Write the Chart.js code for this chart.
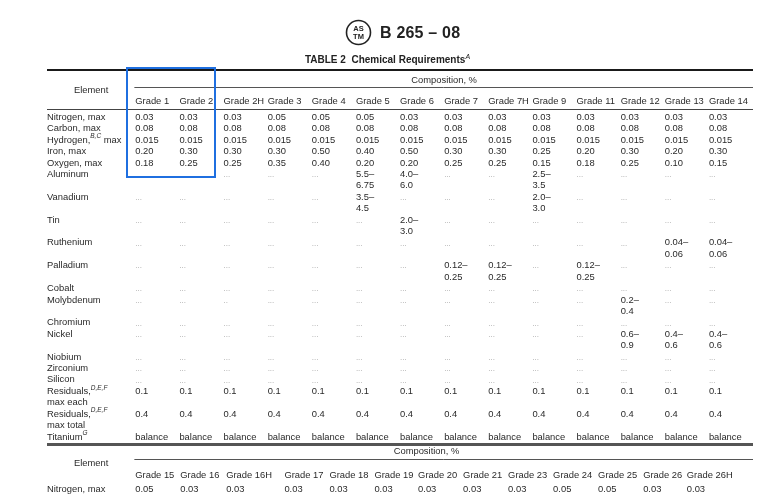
<!DOCTYPE html>
<html lang="en">
<head>
    <meta charset="UTF-8">
    <title>B 265 – 08 Table 2 Chemical Requirements</title>
    <script src="https://cdn.jsdelivr.net/npm/chart.js"></script>
    <style>
        html, body { margin: 0; padding: 0; background: #fff; }
        body { width: 767px; height: 495px; position: relative; overflow: hidden;
               font-family: "Liberation Sans", Arial, sans-serif; color: #222; }
        #tableChart { position: absolute; left: 0; top: 0; }
        .doc-head { position: absolute; left: 345px; top: 19px; display: flex; align-items: center; }
        .doc-head span { font-weight: bold; font-size: 16px; margin-left: 8px; letter-spacing: 0.2px; }
        .table-title { position: absolute; top: 53px; left: 4px; width: 767px; text-align: center;
                       font-weight: bold; font-size: 10px; }
        .table-title sup { font-style: italic; font-weight: normal; font-size: 7px; }
    </style>
</head>
<body>
    <canvas id="tableChart" width="767" height="495"></canvas>

    <div class="doc-head">
        <svg width="27" height="27" viewBox="0 0 27 27">
            <circle cx="13.5" cy="13.5" r="12" fill="none" stroke="#222" stroke-width="1.6"/>
            <text x="13.5" y="12" font-size="7.5" font-weight="bold" text-anchor="middle" fill="#222" font-family="Liberation Sans">AS</text>
            <text x="13.5" y="20" font-size="7.5" font-weight="bold" text-anchor="middle" fill="#222" font-family="Liberation Sans">TM</text>
        </svg>
        <span>B 265 – 08</span>
    </div>
    <div class="table-title">TABLE 2&nbsp; Chemical Requirements<sup>A</sup></div>

    <script>
        // ---- data ----
        const D = '...';
        const grades = ['Grade 1', 'Grade 2', 'Grade 2H', 'Grade 3', 'Grade 4', 'Grade 5', 'Grade 6',
                        'Grade 7', 'Grade 7H', 'Grade 9', 'Grade 11', 'Grade 12', 'Grade 13', 'Grade 14'];
        const elements = ['Nitrogen, max', 'Carbon, max', 'Hydrogen,{B,C} max', 'Iron, max', 'Oxygen, max',
                          'Aluminum', 'Vanadium', 'Tin', 'Ruthenium', 'Palladium', 'Cobalt', 'Molybdenum',
                          'Chromium', 'Nickel', 'Niobium', 'Zirconium', 'Silicon',
                          'Residuals,{D,E,F}\nmax each', 'Residuals,{D,E,F}\nmax total', 'Titanium{G}'];

        const nitrogen   = ['0.03', '0.03', '0.03', '0.05', '0.05', '0.05', '0.03', '0.03', '0.03', '0.03', '0.03', '0.03', '0.03', '0.03'];
        const carbon     = ['0.08', '0.08', '0.08', '0.08', '0.08', '0.08', '0.08', '0.08', '0.08', '0.08', '0.08', '0.08', '0.08', '0.08'];
        const hydrogen   = ['0.015', '0.015', '0.015', '0.015', '0.015', '0.015', '0.015', '0.015', '0.015', '0.015', '0.015', '0.015', '0.015', '0.015'];
        const iron       = ['0.20', '0.30', '0.30', '0.30', '0.50', '0.40', '0.50', '0.30', '0.30', '0.25', '0.20', '0.30', '0.20', '0.30'];
        const oxygen     = ['0.18', '0.25', '0.25', '0.35', '0.40', '0.20', '0.20', '0.25', '0.25', '0.15', '0.18', '0.25', '0.10', '0.15'];
        const aluminum   = [D, D, D, D, D, '5.5–\n6.75', '4.0–\n6.0', D, D, '2.5–\n3.5', D, D, D, D];
        const vanadium   = [D, D, D, D, D, '3.5–\n4.5', D, D, D, '2.0–\n3.0', D, D, D, D];
        const tin        = [D, D, D, D, D, D, '2.0–\n3.0', D, D, D, D, D, D, D];
        const ruthenium  = [D, D, D, D, D, D, D, D, D, D, D, D, '0.04–\n0.06', '0.04–\n0.06'];
        const palladium  = [D, D, D, D, D, D, D, '0.12–\n0.25', '0.12–\n0.25', D, '0.12–\n0.25', D, D, D];
        const cobalt     = [D, D, D, D, D, D, D, D, D, D, D, D, D, D];
        const molybdenum = [D, D, '..', D, D, D, D, D, D, D, D, '0.2–\n0.4', D, D];
        const chromium   = [D, D, D, D, D, D, D, D, D, D, D, D, D, D];
        const nickel     = [D, D, D, D, D, D, D, D, D, D, D, '0.6–\n0.9', '0.4–\n0.6', '0.4–\n0.6'];
        const niobium    = [D, D, D, D, D, D, D, D, D, D, D, D, D, D];
        const zirconium  = [D, D, D, D, D, D, D, D, D, D, D, D, D, D];
        const silicon    = [D, D, D, D, D, D, D, D, D, D, D, D, D, D];
        const residEach  = ['0.1', '0.1', '0.1', '0.1', '0.1', '0.1', '0.1', '0.1', '0.1', '0.1', '0.1', '0.1', '0.1', '0.1'];
        const residTotal = ['0.4', '0.4', '0.4', '0.4', '0.4', '0.4', '0.4', '0.4', '0.4', '0.4', '0.4', '0.4', '0.4', '0.4'];
        const titanium   = ['balance', 'balance', 'balance', 'balance', 'balance', 'balance', 'balance',
                            'balance', 'balance', 'balance', 'balance', 'balance', 'balance', 'balance'];

        // continuation of the table (second block)
        const grades2   = ['Grade 15', 'Grade 16', 'Grade 16H', 'Grade 17', 'Grade 18', 'Grade 19', 'Grade 20',
                           'Grade 21', 'Grade 23', 'Grade 24', 'Grade 25', 'Grade 26', 'Grade 26H'];
        const nitrogen2 = ['0.05', '0.03', '0.03', '0.03', '0.03', '0.03', '0.03', '0.03', '0.03', '0.05', '0.05', '0.03', '0.03'];

        const rows = [nitrogen, carbon, hydrogen, iron, oxygen, aluminum, vanadium, tin, ruthenium, palladium,
                      cobalt, molybdenum, chromium, nickel, niobium, zirconium, silicon, residEach, residTotal, titanium];

        // ---- layout (column / line units on the chart scales) ----
        const labelCol = -1;
        const cols2 = [1, 2.02, 3.06, 4.38, 5.4, 6.42, 7.41, 8.43, 9.45, 10.47, 11.49, 12.51, 13.5];
        const rules = [
            { y: -4.11, from: -1, to: 15, width: 2, color: '#1a1a1a' },
            { y: -2.65, from: 0.98, to: 15, width: 1, color: '#555' },
            { y: -0.76, from: -1, to: 15, width: 1, color: '#444' },
            { y: 28.6, from: -1, to: 15, width: 3, color: '#555' },
            { y: 29.97, from: 0.98, to: 15, width: 1, color: '#555' }
        ];
        const highlight = { x0: 0.82, x1: 2.81, y0: -4.29, y1: 5.25, color: '#1f6fe0' };
        const FONT = '"Liberation Sans", Arial, sans-serif';

        // ---- datasets ----
        const datasets = [];
        // header block 1
        datasets.push({ label: 'head1', data: [{ x: 0, y: -2.4 }, { x: 8, y: -3.28 }],
                        texts: ['Element', 'Composition, %'], align: 'center', pointRadius: 0 });
        datasets.push({ label: 'grades', data: grades.map((g, c) => ({ x: c + 1, y: -1.44 })),
                        texts: grades, pointRadius: 0 });
        // element rows
        let line = 0;
        elements.forEach((name, r) => {
            const vals = rows[r];
            const cells = [name].concat(vals);
            datasets.push({
                label: name.replace(/\{[^}]*\}/g, '').replace('\n', ' '),
                data: cells.map((t, c) => ({ x: c === 0 ? labelCol : c, y: line })),
                texts: cells,
                pointRadius: 0
            });
            line += Math.max(...cells.map(t => t.split('\n').length));
        });
        // header block 2
        datasets.push({ label: 'head2', data: [{ x: 0, y: 30.36 }, { x: 7.6, y: 29.3 }],
                        texts: ['Element', 'Composition, %'], align: 'center', pointRadius: 0 });
        datasets.push({ label: 'grades2', data: grades2.map((g, c) => ({ x: cols2[c], y: 31.4 })),
                        texts: grades2, pointRadius: 0 });
        datasets.push({ label: 'Nitrogen, max (2)',
                        data: [{ x: labelCol, y: 32.6 }].concat(nitrogen2.map((v, c) => ({ x: cols2[c], y: 32.6 }))),
                        texts: ['Nitrogen, max'].concat(nitrogen2), pointRadius: 0 });

        // draws text with {superscript} parts
        function drawRich(ctx, str, px, py, align) {
            if (str === '...' || str === '..') {
                ctx.font = '8px ' + FONT;
                ctx.fillStyle = '#a0a0a0';
                ctx.textAlign = 'left';
                ctx.fillText(str, px, py + 0.5);
                return;
            }
            const parts = str.split(/(\{[^}]*\})/).filter(s => s.length);
            const base = '9.4px ' + FONT;
            const sup = 'italic 6.5px ' + FONT;
            let total = 0;
            parts.forEach(p => {
                ctx.font = p[0] === '{' ? sup : base;
                total += ctx.measureText(p[0] === '{' ? p.slice(1, -1) : p).width;
            });
            let cx = align === 'center' ? px - total / 2 : px;
            ctx.textAlign = 'left';
            ctx.fillStyle = '#2a2a2a';
            parts.forEach(p => {
                const isSup = p[0] === '{';
                const t = isSup ? p.slice(1, -1) : p;
                ctx.font = isSup ? sup : base;
                ctx.fillText(t, cx, isSup ? py - 3.5 : py);
                cx += ctx.measureText(t).width;
            });
        }

        const tablePlugin = {
            id: 'tableText',
            afterDatasetsDraw(chart) {
                const { ctx } = chart;
                const xs = chart.scales.x, ys = chart.scales.y;
                ctx.save();
                rules.forEach(r => {
                    const py = Math.round(ys.getPixelForValue(r.y)) + (r.width % 2 ? 0.5 : 0);
                    ctx.strokeStyle = r.color;
                    ctx.lineWidth = r.width;
                    ctx.beginPath();
                    ctx.moveTo(xs.getPixelForValue(r.from), py);
                    ctx.lineTo(xs.getPixelForValue(r.to), py);
                    ctx.stroke();
                });
                ctx.textBaseline = 'middle';
                chart.data.datasets.forEach((ds, i) => {
                    const meta = chart.getDatasetMeta(i);
                    meta.data.forEach((pt, j) => {
                        ds.texts[j].split('\n').forEach((ln, k) => {
                            const py = k ? ys.getPixelForValue(ds.data[j].y + k) : pt.y;
                            drawRich(ctx, ln, pt.x, py, ds.align || 'left');
                        });
                    });
                });
                // blue highlight box round Grade 1 / Grade 2
                const hx0 = xs.getPixelForValue(highlight.x0), hx1 = xs.getPixelForValue(highlight.x1);
                const hy0 = ys.getPixelForValue(highlight.y0), hy1 = ys.getPixelForValue(highlight.y1);
                ctx.strokeStyle = highlight.color;
                ctx.lineWidth = 2;
                ctx.strokeRect(Math.round(hx0), Math.round(hy0), Math.round(hx1 - hx0), Math.round(hy1 - hy0));
                ctx.restore();
            }
        };

        new Chart(document.getElementById('tableChart'), {
            type: 'scatter',
            data: { datasets },
            options: {
                responsive: false,
                animation: false,
                devicePixelRatio: 1,
                layout: { padding: { left: 47, right: 14, top: 66, bottom: 1 } },
                plugins: { legend: { display: false }, tooltip: { enabled: false } },
                scales: {
                    x: { type: 'linear', min: -1, max: 15, display: false },
                    y: { type: 'linear', min: -4.5, max: 33, reverse: true, display: false }
                }
            },
            plugins: [tablePlugin]
        });
    </script>
</body>
</html>
